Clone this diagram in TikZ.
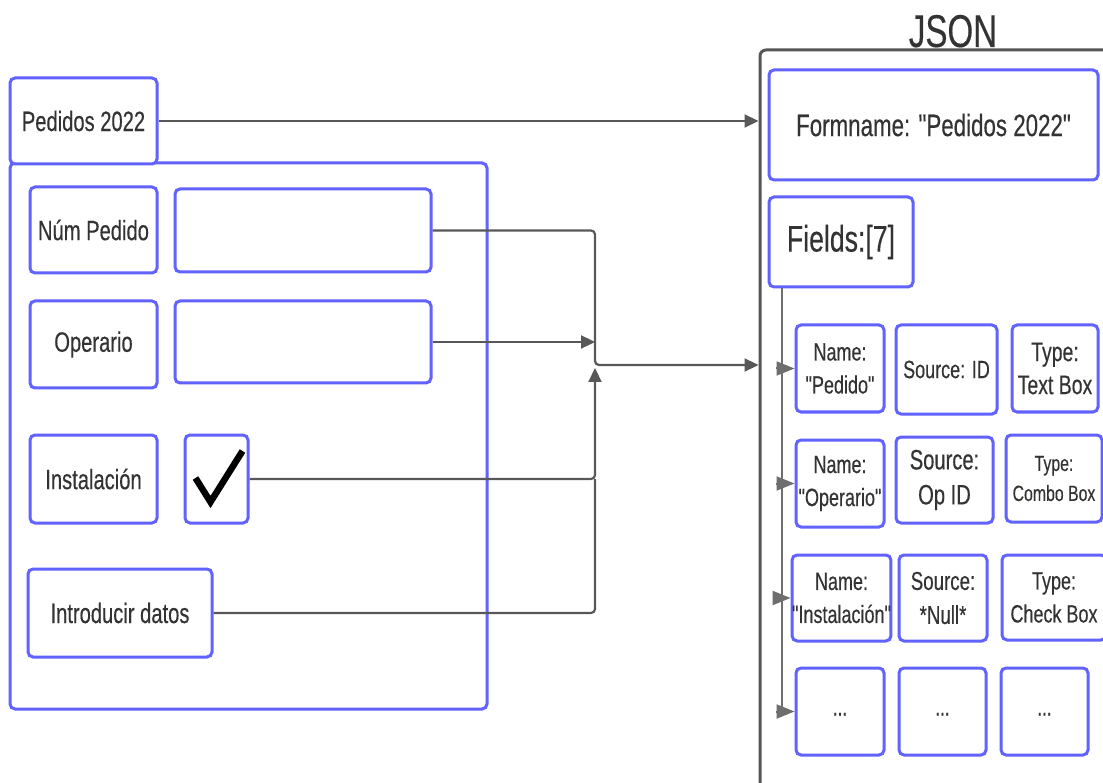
\documentclass[tikz,border=0pt]{standalone}
\usepackage{fontspec}
\setmainfont{Liberation Sans}[FakeStretch=0.72, FakeBold=0.3, Ligatures=TeXOff]
\usetikzlibrary{arrows.meta,calc}
\definecolor{boxblue}{RGB}{98,98,255}
\definecolor{txt}{RGB}{51,51,51}
\definecolor{conn}{RGB}{88,88,88}
\definecolor{framegray}{RGB}{85,85,85}
\definecolor{branch}{RGB}{110,110,110}
\newcommand\fs[2]{\fontsize{#1}{#2}\selectfont}
\tikzset{
  box/.style={draw=boxblue, line width=3pt, rounded corners=5pt, fill=white,
    align=center, inner sep=0pt, text=txt, font=\fs{28}{34}},
  small/.style={font=\fs{25}{33}},
  dots/.style={font=\fs{24}{24}},
  link/.style={draw=conn, line width=2.2pt, rounded corners=4pt},
  linkarrow/.style={link, -{Triangle[length=14pt,width=13pt]}},
  branchline/.style={draw=branch, line width=2pt},
  brancharrow/.style={branchline, -{Triangle[length=18pt,width=14pt]}},
}
\begin{document}
\begin{tikzpicture}[x=1pt,y=-1pt]
\useasboundingbox (0,0) rectangle (1103,783);
\clip (0,0) rectangle (1103,783);
\fill[white] (0,0) rectangle (1103,783);

% form on the left
\node[box, minimum width=477pt, minimum height=546pt] (form) at (248.5,436) {};
\node[box, minimum width=147pt, minimum height=86pt] (ped) at (83.5,121) {Pedidos 2022};
\node[box, minimum width=127pt, minimum height=86pt] (numlab) at (93.5,230) {Núm Pedido};
\node[box, minimum width=256pt, minimum height=83pt] (numin) at (303,230.5) {};
\node[box, minimum width=127pt, minimum height=87pt] (oplab) at (93.5,344.5) {Operario};
\node[box, minimum width=256pt, minimum height=82pt] (opin) at (303,342) {};
\node[box, minimum width=127pt, minimum height=88pt] (instlab) at (93.5,479) {Instalación};
\node[box, minimum width=63pt, minimum height=88pt] (chk) at (216.5,479) {};
\node[box, minimum width=184pt, minimum height=88pt] (intro) at (120,613) {Introducir datos};
\draw[line width=6.5pt, line join=miter] ($(chk.center)+(-21,-1)$) -- ($(chk.center)+(-6,23)$) -- ($(chk.center)+(26,-28)$);

% JSON document frame
\node[draw=framegray, line width=3pt, rounded corners=6pt, minimum width=450pt,
      minimum height=800pt, anchor=north west, inner sep=0pt] (jsonframe) at (758.5,48.5) {};
\node[text=txt, font=\fs{46}{50}, anchor=base] (jsontitle) at (953,47) {JSON};

\node[box, font=\fs{31}{36}, minimum width=329pt, minimum height=110pt] (formname) at (933.5,125) {Formname: "Pedidos 2022"};
\node[box, minimum width=144pt, minimum height=90pt, font=\fs{37}{40}] (fields) at (841,242) {Fields:[7]};

% field rows
\node[box, small, minimum width=88pt, minimum height=87pt] (r1n) at (840,368.5) {Name:\\"Pedido"};
\node[box, small, minimum width=101pt, minimum height=89pt] (r1s) at (946.5,369.5) {Source: ID};
\node[box, font=\fs{27}{33}, minimum width=86pt, minimum height=87pt] (r1t) at (1055,368.5) {Type:\\Text Box};

\node[box, small, minimum width=88pt, minimum height=87pt] (r2n) at (840,483.5) {Name:\\"Operario"};
\node[box, font=\fs{28}{35}, minimum width=97pt, minimum height=86pt] (r2s) at (944.5,480) {Source:\\Op ID};
\node[box, font=\fs{22}{30}, minimum width=96pt, minimum height=87pt] (r2t) at (1054,478.5) {Type:\\Combo Box};

\node[box, small, minimum width=91pt, minimum height=86pt] (r3n) at (841.5,598) {Name:\\"Instalación"};
\node[box, font=\fs{26}{34}, minimum width=88pt, minimum height=86pt] (r3s) at (943,598) {Source:\\*Null*};
\node[box, small, minimum width=104pt, minimum height=85pt] (r3t) at (1054,597.5) {Type:\\Check Box};

\node[box, dots, minimum width=88pt, minimum height=87pt] (r4n) at (840,711.5) {\raisebox{-8pt}{...}};
\node[box, dots, minimum width=87pt, minimum height=87pt] (r4s) at (942.5,711.5) {\raisebox{-8pt}{...}};
\node[box, dots, minimum width=87pt, minimum height=87pt] (r4t) at (1044.5,711.5) {\raisebox{-8pt}{...}};

% connectors from the form to the JSON document
\coordinate (jx) at (595,365);
\coordinate (vbot) at (782,708);
\draw[linkarrow] (ped.east) -- (ped.east -| jsonframe.west);
\draw[linkarrow] (numin.east) -| (jx) -- (jx -| jsonframe.west);
\draw[linkarrow] (opin.east) -- (opin.east -| jx);
\draw[linkarrow] (chk.east) -| ([yshift=-3pt]jx);
\draw[link] (intro.east) -| (jx |- chk.east);

% field list branches
\draw[branchline] (fields.south -| vbot) -- (vbot);
\draw[brancharrow] ($(r1n.west -| vbot)+(-6,0)$) -- (r1n.west);
\draw[brancharrow] ($(r2n.west -| vbot)+(-6,0)$) -- (r2n.west);
\draw[brancharrow] ($(r3n.west -| vbot)+(-6,0)$) -- (r3n.west);
\draw[brancharrow] ($(r4n.west -| vbot)+(-6,0)$) -- (r4n.west);
\end{tikzpicture}
\end{document}
